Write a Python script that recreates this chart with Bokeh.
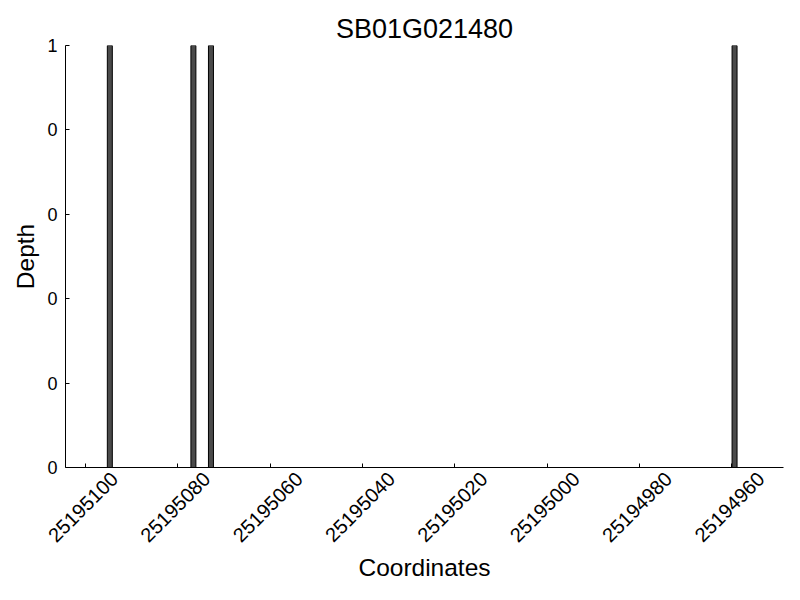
import math
from bokeh.plotting import figure
from bokeh.models import (Range1d, FixedTicker, PrintfTickFormatter, LinearAxis)
from bokeh.embed import file_html
from bokeh.resources import INLINE

# data
positions = [25195094.7, 25195076.6, 25195072.8, 25194959.4]
depths = [1, 1, 1, 1]
x_ticks = [25195100, 25195080, 25195060, 25195040, 25195020, 25195000, 25194980, 25194960]
y_ticks = [0, 0.2, 0.4, 0.6, 0.8, 1.0]
title = "SB01G021480"

FONT = "Liberation Sans"
LABEL_SHIFT = 6.3  # data units: moves rotated labels so their box centres on the tick

p = figure(width=784, height=584, output_backend="svg", toolbar_location=None,
           x_range=Range1d(25195104.3, 25194948.8), y_range=Range1d(0, 1),
           min_border_left=65, min_border_right=1, min_border_top=45,
           min_border_bottom=117)
p.outline_line_color = None
p.xgrid.visible = False
p.ygrid.visible = False

p.title.text = title
p.title.align = "center"
p.title.text_font = FONT
p.title.text_font_size = "27px"
p.title.text_font_style = "normal"
p.title.text_color = "black"
p.title.standoff = 3

p.vbar(x=positions, top=depths, bottom=0, width=1.08,
       fill_color="#4a4a4a", line_color="black", line_width=1)

# axes
for ax in (p.xaxis[0], p.yaxis[0]):
    ax.axis_line_color = "black"
    ax.axis_line_width = 1
    ax.major_tick_in = 4
    ax.major_tick_out = 0
    ax.minor_tick_line_color = None
    ax.major_tick_line_color = "black"
    ax.axis_label_text_font = FONT
    ax.axis_label_text_font_style = "normal"
    ax.axis_label_text_font_size = "24.5px"
    ax.axis_label_text_color = "black"
    ax.major_label_text_font = FONT
    ax.major_label_text_font_size = "18px"
    ax.major_label_text_color = "black"

p.yaxis.ticker = FixedTicker(ticks=y_ticks)
p.yaxis.formatter = PrintfTickFormatter(format="%d")
p.yaxis.major_label_standoff = 8
p.yaxis.axis_label = "Depth"
p.yaxis.axis_label_standoff = 5

# tick marks at the true positions
p.xaxis.ticker = FixedTicker(ticks=x_ticks)
p.xaxis.major_label_overrides = {t: "" for t in x_ticks}
p.xaxis.major_label_standoff = 0

# rotated tick labels, centred on the ticks
shifted = [t - LABEL_SHIFT for t in x_ticks]
lab_axis = LinearAxis(ticker=FixedTicker(ticks=shifted),
                      major_label_overrides={s: str(t) for s, t in zip(shifted, x_ticks)},
                      axis_line_color=None, major_tick_line_color=None,
                      minor_tick_line_color=None, major_tick_in=0, major_tick_out=0,
                      major_label_orientation=math.pi / 4,
                      major_label_standoff=8,
                      major_label_text_font=FONT, major_label_text_font_size="20px",
                      major_label_text_color="black",
                      axis_label="Coordinates", axis_label_standoff=3,
                      axis_label_text_font=FONT, axis_label_text_font_size="24.5px",
                      axis_label_text_font_style="normal", axis_label_text_color="black")
p.add_layout(lab_axis, "below")

open("out.html", "w").write(file_html(p, INLINE))
